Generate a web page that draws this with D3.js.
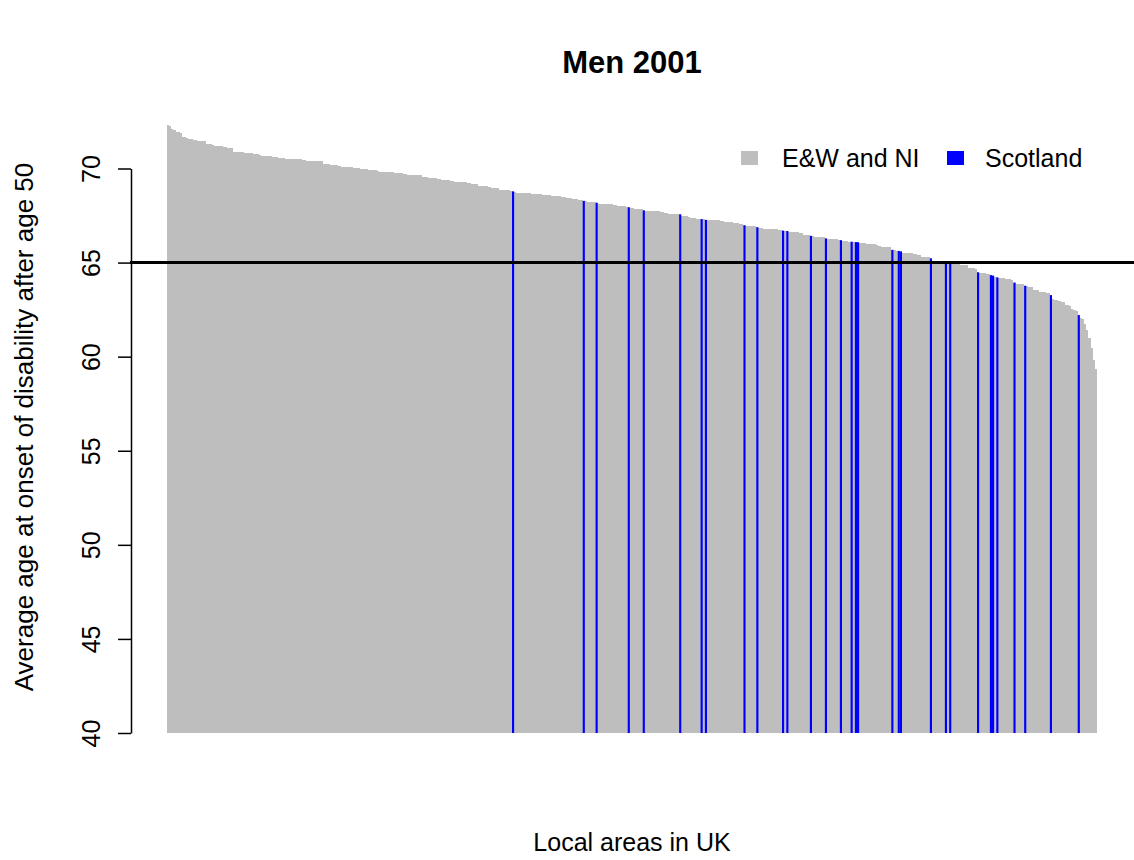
<!DOCTYPE html>
<html>
<head>
<meta charset="utf-8">
<script src="https://cdn.jsdelivr.net/npm/d3@7"></script>
<style>
    body { margin: 0; background: #fff; }
    svg { font-family: "Liberation Sans", Arial, sans-serif; }
</style>
</head>
<body>
<div id="chart"></div>
<script>
// average age at onset of disability after age 50, local areas sorted high to low
var ageValues = [
    72.32, 72.24, 72.12, 72.05, 71.95, 71.93, 71.90, 71.68, 71.65, 71.62,
    71.57, 71.56, 71.54, 71.49, 71.48, 71.47, 71.46, 71.44, 71.32, 71.30,
    71.29, 71.27, 71.21, 71.20, 71.19, 71.17, 71.13, 71.12, 71.11, 71.10,
    71.08, 70.90, 70.89, 70.88, 70.87, 70.86, 70.85, 70.84, 70.83, 70.82,
    70.77, 70.76, 70.75, 70.74, 70.69, 70.68, 70.67, 70.66, 70.65, 70.61,
    70.60, 70.59, 70.58, 70.57, 70.56, 70.52, 70.51, 70.51, 70.50, 70.50,
    70.49, 70.49, 70.48, 70.47, 70.43, 70.42, 70.42, 70.41, 70.41, 70.40,
    70.40, 70.39, 70.38, 70.24, 70.23, 70.22, 70.21, 70.20, 70.19, 70.18,
    70.11, 70.10, 70.10, 70.09, 70.08, 70.08, 70.07, 70.02, 70.01, 70.01,
    70.00, 70.00, 69.99, 69.98, 69.93, 69.92, 69.91, 69.90, 69.85, 69.84,
    69.84, 69.83, 69.83, 69.82, 69.82, 69.81, 69.76, 69.75, 69.74, 69.74,
    69.73, 69.72, 69.67, 69.66, 69.66, 69.65, 69.64, 69.64, 69.63, 69.57,
    69.56, 69.55, 69.49, 69.48, 69.47, 69.47, 69.46, 69.45, 69.40, 69.39,
    69.38, 69.37, 69.36, 69.31, 69.30, 69.30, 69.29, 69.28, 69.28, 69.27,
    69.22, 69.21, 69.20, 69.19, 69.18, 69.08, 69.07, 69.06, 69.06, 69.05,
    69.04, 68.99, 68.98, 68.97, 68.96, 68.88, 68.87, 68.86, 68.85, 68.84,
    68.83, 68.78, 68.73, 68.72, 68.72, 68.71, 68.71, 68.70, 68.70, 68.69,
    68.64, 68.63, 68.63, 68.62, 68.62, 68.61, 68.61, 68.60, 68.59, 68.55,
    68.54, 68.53, 68.53, 68.52, 68.51, 68.46, 68.45, 68.44, 68.43, 68.38,
    68.37, 68.36, 68.35, 68.34, 68.28, 68.25, 68.24, 68.23, 68.22, 68.21,
    68.18, 68.13, 68.12, 68.12, 68.11, 68.10, 68.10, 68.09, 68.08, 68.07,
    68.02, 68.01, 68.00, 67.99, 67.98, 67.94, 67.89, 67.88, 67.87, 67.87,
    67.86, 67.85, 67.77, 67.76, 67.76, 67.75, 67.75, 67.74, 67.74, 67.73,
    67.68, 67.67, 67.66, 67.65, 67.60, 67.59, 67.58, 67.58, 67.57, 67.56,
    67.50, 67.49, 67.48, 67.40, 67.39, 67.38, 67.37, 67.33, 67.32, 67.31,
    67.29, 67.27, 67.26, 67.26, 67.25, 67.25, 67.24, 67.24, 67.23, 67.22,
    67.18, 67.17, 67.17, 67.16, 67.10, 67.09, 67.08, 67.07, 67.06, 66.98,
    66.96, 66.95, 66.95, 66.94, 66.93, 66.88, 66.83, 66.82, 66.81, 66.81,
    66.80, 66.79, 66.77, 66.76, 66.76, 66.75, 66.74, 66.70, 66.69, 66.68,
    66.62, 66.61, 66.61, 66.60, 66.60, 66.59, 66.58, 66.48, 66.47, 66.46,
    66.42, 66.39, 66.38, 66.37, 66.37, 66.36, 66.35, 66.28, 66.26, 66.25,
    66.24, 66.24, 66.23, 66.22, 66.19, 66.15, 66.14, 66.13, 66.12, 66.11,
    66.10, 66.09, 66.08, 66.06, 66.05, 66.04, 65.99, 65.98, 65.98, 65.97,
    65.97, 65.96, 65.86, 65.85, 65.84, 65.84, 65.83, 65.82, 65.68, 65.65,
    65.64, 65.62, 65.59, 65.53, 65.52, 65.52, 65.51, 65.50, 65.44, 65.43,
    65.42, 65.41, 65.32, 65.31, 65.30, 65.29, 65.22, 65.11, 65.10, 65.09,
    65.09, 65.08, 65.07, 65.04, 65.02, 65.00, 64.96, 64.95, 64.94, 64.93,
    64.88, 64.87, 64.86, 64.85, 64.71, 64.70, 64.69, 64.67, 64.48, 64.44,
    64.43, 64.42, 64.41, 64.40, 64.33, 64.31, 64.26, 64.21, 64.17, 64.16,
    64.16, 64.15, 64.15, 64.14, 64.10, 63.94, 63.88, 63.87, 63.86, 63.85,
    63.77, 63.73, 63.72, 63.71, 63.56, 63.54, 63.53, 63.44, 63.43, 63.42,
    63.41, 63.40, 63.27, 63.04, 63.02, 63.00, 62.94, 62.92, 62.90, 62.77,
    62.74, 62.71, 62.52, 62.48, 62.44, 62.21, 62.06, 62.01, 61.76, 61.41,
    60.97, 60.44, 59.82, 59.35
];

// positions (rank) of the Scottish council areas in the sorted list
var scotlandRanks = [
    161, 194, 200, 215, 222, 239, 249, 251, 269, 275, 287, 289, 300, 307, 314, 319,
    321, 322, 338, 341, 342, 356, 363, 365, 378, 384, 385, 387, 395, 400, 412, 425
];

var legendLabels = ["E&W and NI", "Scotland"];
var legendColors = ["#BEBEBE", "#0000FF"];
var yTicks = [40, 45, 50, 55, 60, 65, 70];
var refLine = 65;

var width = 1134,
    height = 860;

var svg = d3.select("#chart").append("svg")
    .attr("width", width)
    .attr("height", height);

svg.append("rect")
    .attr("width", width)
    .attr("height", height)
    .attr("fill", "#fff");

var bars = ageValues.map(function(v, i) {
    return { rank: i, value: v, scot: scotlandRanks.indexOf(i) >= 0 };
});

var x = d3.scaleBand()
    .domain(bars.map(function(d) { return d.rank; }))
    .range([167, 1097])
    .padding(0);

var y = d3.scaleLinear()
    .domain([40, 70])
    .range([733, 168.5]);

// grey bars crisp so no seams, blue ones on top left anti-aliased like the original
svg.append("g")
    .attr("shape-rendering", "crispEdges")
    .selectAll("rect").data(bars)
    .enter().append("rect")
    .attr("x", function(d) { return x(d.rank); })
    .attr("width", x.bandwidth())
    .attr("y", function(d) { return y(d.value); })
    .attr("height", function(d) { return y(40) - y(d.value); })
    .attr("fill", legendColors[0]);

svg.append("g")
    .selectAll("rect").data(bars.filter(function(d) { return d.scot; }))
    .enter().append("rect")
    .attr("x", function(d) { return x(d.rank); })
    .attr("width", x.bandwidth())
    .attr("y", function(d) { return y(d.value); })
    .attr("height", function(d) { return y(40) - y(d.value); })
    .attr("fill", legendColors[1]);

// reference line at 65, across the whole plot region
svg.append("line")
    .attr("x1", 130)
    .attr("x2", width)
    .attr("y1", y(refLine))
    .attr("y2", y(refLine))
    .attr("stroke", "#000")
    .attr("stroke-width", 3);

var yAxis = svg.append("g")
    .attr("transform", "translate(131,0)")
    .call(d3.axisLeft(y).tickValues(yTicks).tickSize(13).tickSizeOuter(0));

yAxis.select(".domain").attr("stroke-width", 1.5);
yAxis.selectAll(".tick line").attr("stroke-width", 1.5);
yAxis.selectAll(".tick text")
    .attr("font-size", 25)
    .attr("fill", "#000")
    .attr("font-family", "Liberation Sans, Arial, sans-serif")
    .attr("text-anchor", "middle")
    .attr("transform", "rotate(-90)")
    .attr("x", 0)
    .attr("y", -31)
    .attr("dy", 0);

svg.append("text")
    .attr("x", 632)
    .attr("y", 73)
    .attr("text-anchor", "middle")
    .attr("font-size", 31)
    .attr("font-weight", "bold")
    .text("Men 2001");

svg.append("text")
    .attr("x", 632)
    .attr("y", 851)
    .attr("text-anchor", "middle")
    .attr("font-size", 25)
    .text("Local areas in UK");

svg.append("text")
    .attr("transform", "translate(33,427) rotate(-90)")
    .attr("text-anchor", "middle")
    .attr("font-size", 26)
    .text("Average age at onset of disability after age 50");

// legend
var legendX = [741, 947];
var legendTextX = [782, 985];
var legend = svg.append("g");
legendLabels.forEach(function(label, i) {
    legend.append("rect")
        .attr("x", legendX[i])
        .attr("y", 151)
        .attr("width", 17)
        .attr("height", 14)
        .attr("fill", legendColors[i]);
    legend.append("text")
        .attr("x", legendTextX[i])
        .attr("y", 167)
        .attr("font-size", 25)
        .text(label);
});
</script>
</body>
</html>
